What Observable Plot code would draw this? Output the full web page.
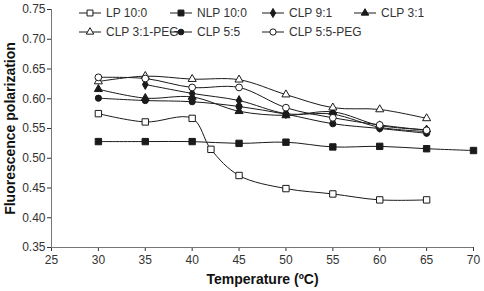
<!DOCTYPE html>
<html>
<head>
<meta charset="utf-8">
<script src="https://cdn.jsdelivr.net/npm/d3@7"></script>
<script src="https://cdn.jsdelivr.net/npm/@observablehq/plot@0.6"></script>
<style>
  html, body { margin: 0; padding: 0; background: #fff; }
  #wrap { position: relative; width: 484px; height: 291px; font-family: "Liberation Sans", Arial, sans-serif; }
  .leg { position: absolute; display: flex; align-items: center; font-size: 12px; color: #333; white-space: nowrap; }
  .leg svg { margin-right: 5px; }
</style>
</head>
<body>
<div id="wrap"></div>
<script>
// Data
const lp100_t   = [30, 35, 40, 42, 45, 50, 55, 60, 65];
const lp100_v   = [0.575, 0.561, 0.567, 0.515, 0.471, 0.449, 0.440, 0.430, 0.430];

const nlp100_t  = [30, 35, 40, 45, 50, 55, 60, 65, 70];
const nlp100_v  = [0.528, 0.528, 0.528, 0.525, 0.527, 0.519, 0.520, 0.516, 0.513];

const clp91_t   = [35, 40, 45, 50, 55, 60, 65];
const clp91_v   = [0.624, 0.609, 0.597, 0.575, 0.574, 0.552, 0.545];

const clp31_t   = [30, 35, 40, 45, 50, 55, 60, 65];
const clp31_v   = [0.616, 0.601, 0.603, 0.579, 0.572, 0.578, 0.555, 0.548];

const clp31peg_t = [30, 35, 40, 45, 50, 55, 60, 65];
const clp31peg_v = [0.629, 0.638, 0.633, 0.632, 0.607, 0.585, 0.582, 0.567];

const clp55_t   = [30, 35, 40, 45, 50, 55, 60, 65];
const clp55_v   = [0.601, 0.597, 0.595, 0.587, 0.574, 0.558, 0.550, 0.542];

const clp55peg_t = [30, 35, 40, 45, 50, 55, 60, 65];
const clp55peg_v = [0.636, 0.634, 0.619, 0.619, 0.585, 0.568, 0.556, 0.547];

const xTicks = [25, 30, 35, 40, 45, 50, 55, 60, 65, 70];
const yTicks = [0.35, 0.40, 0.45, 0.50, 0.55, 0.60, 0.65, 0.70, 0.75];

const seriesNames = ["LP 10:0", "NLP 10:0", "CLP 9:1", "CLP 3:1", "CLP 3:1-PEG", "CLP 5:5", "CLP 5:5-PEG"];
const seriesT = [lp100_t, nlp100_t, clp91_t, clp31_t, clp31peg_t, clp55_t, clp55peg_t];
const seriesV = [lp100_v, nlp100_v, clp91_v, clp31_v, clp31peg_v, clp55_v, clp55peg_v];
// marker styles
const seriesSymbol = ["square", "square", "diamond", "triangle", "triangle", "circle", "circle"];
const seriesFilled = [false, true, true, true, false, true, false];
const seriesR = [3.6, 3.6, 3.0, 3.0, 3.0, 3.1, 3.4];

const rows = [];
seriesNames.forEach((name, i) => {
  seriesT[i].forEach((t, j) => rows.push({series: name, idx: i, t, v: seriesV[i][j]}));
});

const ink = "#1a1a1a";
const marks = [
  Plot.axisX({ticks: xTicks, tickSize: 4, tickPadding: 4, fontSize: 12, color: "#333",
               label: "Temperature (ºC)", labelAnchor: "center", labelArrow: "none", labelOffset: 36}),
  Plot.axisY({ticks: yTicks, tickSize: 4, tickPadding: 2, fontSize: 12, color: "#333", tickFormat: d3.format(".2f"),
               label: "Fluorescence polarization", labelAnchor: "center", labelArrow: "none", labelOffset: 46}),
  Plot.ruleX([25], {stroke: "#777", strokeWidth: 1}),
  Plot.ruleY([0.35], {stroke: "#777", strokeWidth: 1}),
];
seriesNames.forEach((name, i) => {
  const d = rows.filter(r => r.idx === i);
  marks.push(Plot.line(d, {x: "t", y: "v", stroke: ink, strokeWidth: 1, curve: "catmull-rom"}));
});
seriesNames.forEach((name, i) => {
  const d = rows.filter(r => r.idx === i);
  marks.push(Plot.dot(d, {x: "t", y: "v", symbol: () => seriesSymbol[i], r: seriesR[i],
    fill: seriesFilled[i] ? ink : "white", stroke: ink, strokeWidth: 1}));
});

const chart = Plot.plot({
  width: 484, height: 291,
  marginLeft: 51, marginRight: 11, marginTop: 9, marginBottom: 44,
  style: {fontFamily: "'Liberation Sans', Arial, sans-serif", background: "white", overflow: "visible"},
  x: {domain: [25, 70]},
  y: {domain: [0.35, 0.75]},
  symbol: {type: "identity"},
  marks
});
const wrap = document.getElementById("wrap");
wrap.appendChild(chart);
// bold axis titles
chart.querySelectorAll("[aria-label='x-axis label'] text, [aria-label='y-axis label'] text").forEach(t => {
  t.style.fontWeight = "bold"; t.style.fontSize = "14px"; t.style.fill = "#111";
});

// Legend (HTML overlay)
const legPos = [[79, 13], [170, 13], [262, 13], [354, 13], [79, 32], [170, 32], [262, 32]];
const symPath = {
  square: (s) => d3.symbol(d3.symbolSquare, s)(),
  diamond: (s) => d3.symbol(d3.symbolDiamond, s)(),
  triangle: (s) => d3.symbol(d3.symbolTriangle, s)(),
  circle: (s) => d3.symbol(d3.symbolCircle, s)()
};
seriesNames.forEach((name, i) => {
  const div = document.createElement("div");
  div.className = "leg";
  div.style.left = legPos[i][0] + "px";
  div.style.top = (legPos[i][1] - 8) + "px";
  const area = Math.PI * seriesR[i] * seriesR[i] * 0.85;
  div.innerHTML = `<svg width="22" height="16"><line x1="0" x2="22" y1="8" y2="8" stroke="${ink}" stroke-width="1"/>` +
    `<path transform="translate(11,8)" d="${symPath[seriesSymbol[i]](area)}" fill="${seriesFilled[i] ? ink : "white"}" stroke="${ink}"/></svg>` +
    `<span>${name}</span>`;
  wrap.appendChild(div);
});
</script>
</body>
</html>
